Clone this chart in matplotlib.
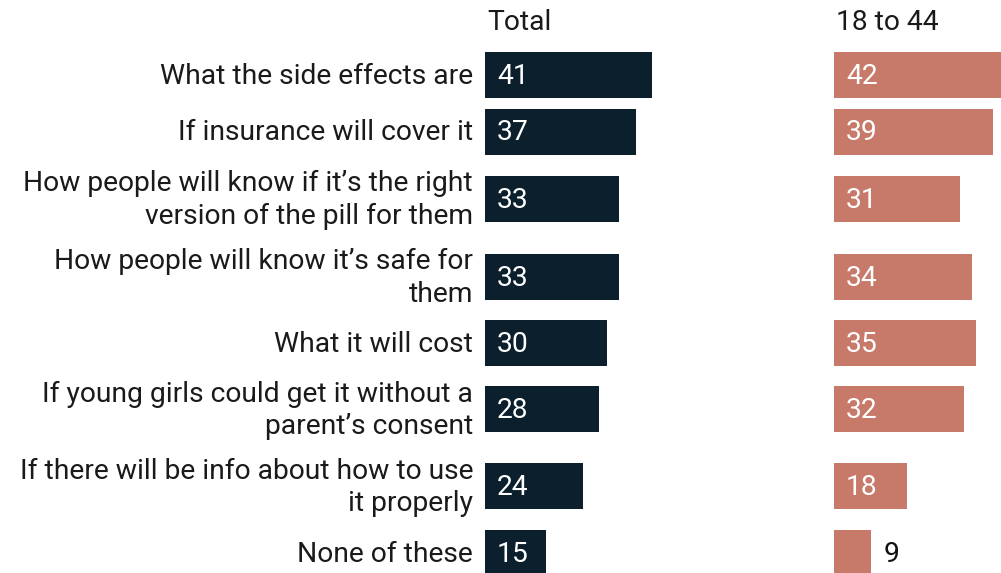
import matplotlib.pyplot as plt

categories = [
    "What the side effects are",
    "If insurance will cover it",
    "How people will know if it\u2019s the right\nversion of the pill for them",
    "How people will know it\u2019s safe for\nthem",
    "What it will cost",
    "If young girls could get it without a\nparent\u2019s consent",
    "If there will be info about how to use\nit properly",
    "None of these",
]
total = [41, 37, 33, 33, 30, 28, 24, 15]
age_18_44 = [42, 39, 31, 34, 35, 32, 18, 9]

# layout (pixel rows, top-down)
row_y = [75, 131.5, 198.5, 276.5, 343, 409, 486, 553]
bar_h = 46
px_per_unit = 4.07
W, H = 1001, 573
fs = 20.3

plt.rcParams["font.family"] = ["Roboto", "DejaVu Sans"]
fig = plt.figure(figsize=(W / 100, H / 100), dpi=100)


def panel(x0, width, values, color, title):
    ax = fig.add_axes([x0 / W, 0, width / W, 1])
    ax.set_xlim(0, width / px_per_unit)
    ax.set_ylim(H, 0)
    ax.barh(row_y, values, height=bar_h, color=color, edgecolor="none")
    for y, v in zip(row_y, values):
        if v >= 12:
            ax.text(12 / px_per_unit, y + 1.5, str(v), color="white", fontsize=fs,
                    ha="left", va="center")
        else:
            ax.text(v + 13 / px_per_unit, y + 1.5, str(v), color="#111111", fontsize=fs,
                    ha="left", va="center")
    ax.text(2 / px_per_unit, 23, title, fontsize=fs, color="#1a1a1a",
            ha="left", va="center")
    ax.axis("off")
    return ax


ax1 = panel(485, 320, total, "#0b1f2d", "Total")
ax2 = panel(834, W - 834, age_18_44, "#c87a6a", "18 to 44")

for y, lab in zip(row_y, categories):
    ax1.text(-12 / px_per_unit, y + 1.5, lab, fontsize=fs, color="#1a1a1a",
             ha="right", va="center", linespacing=1.28, clip_on=False)

fig.savefig("out.png", dpi=100)
